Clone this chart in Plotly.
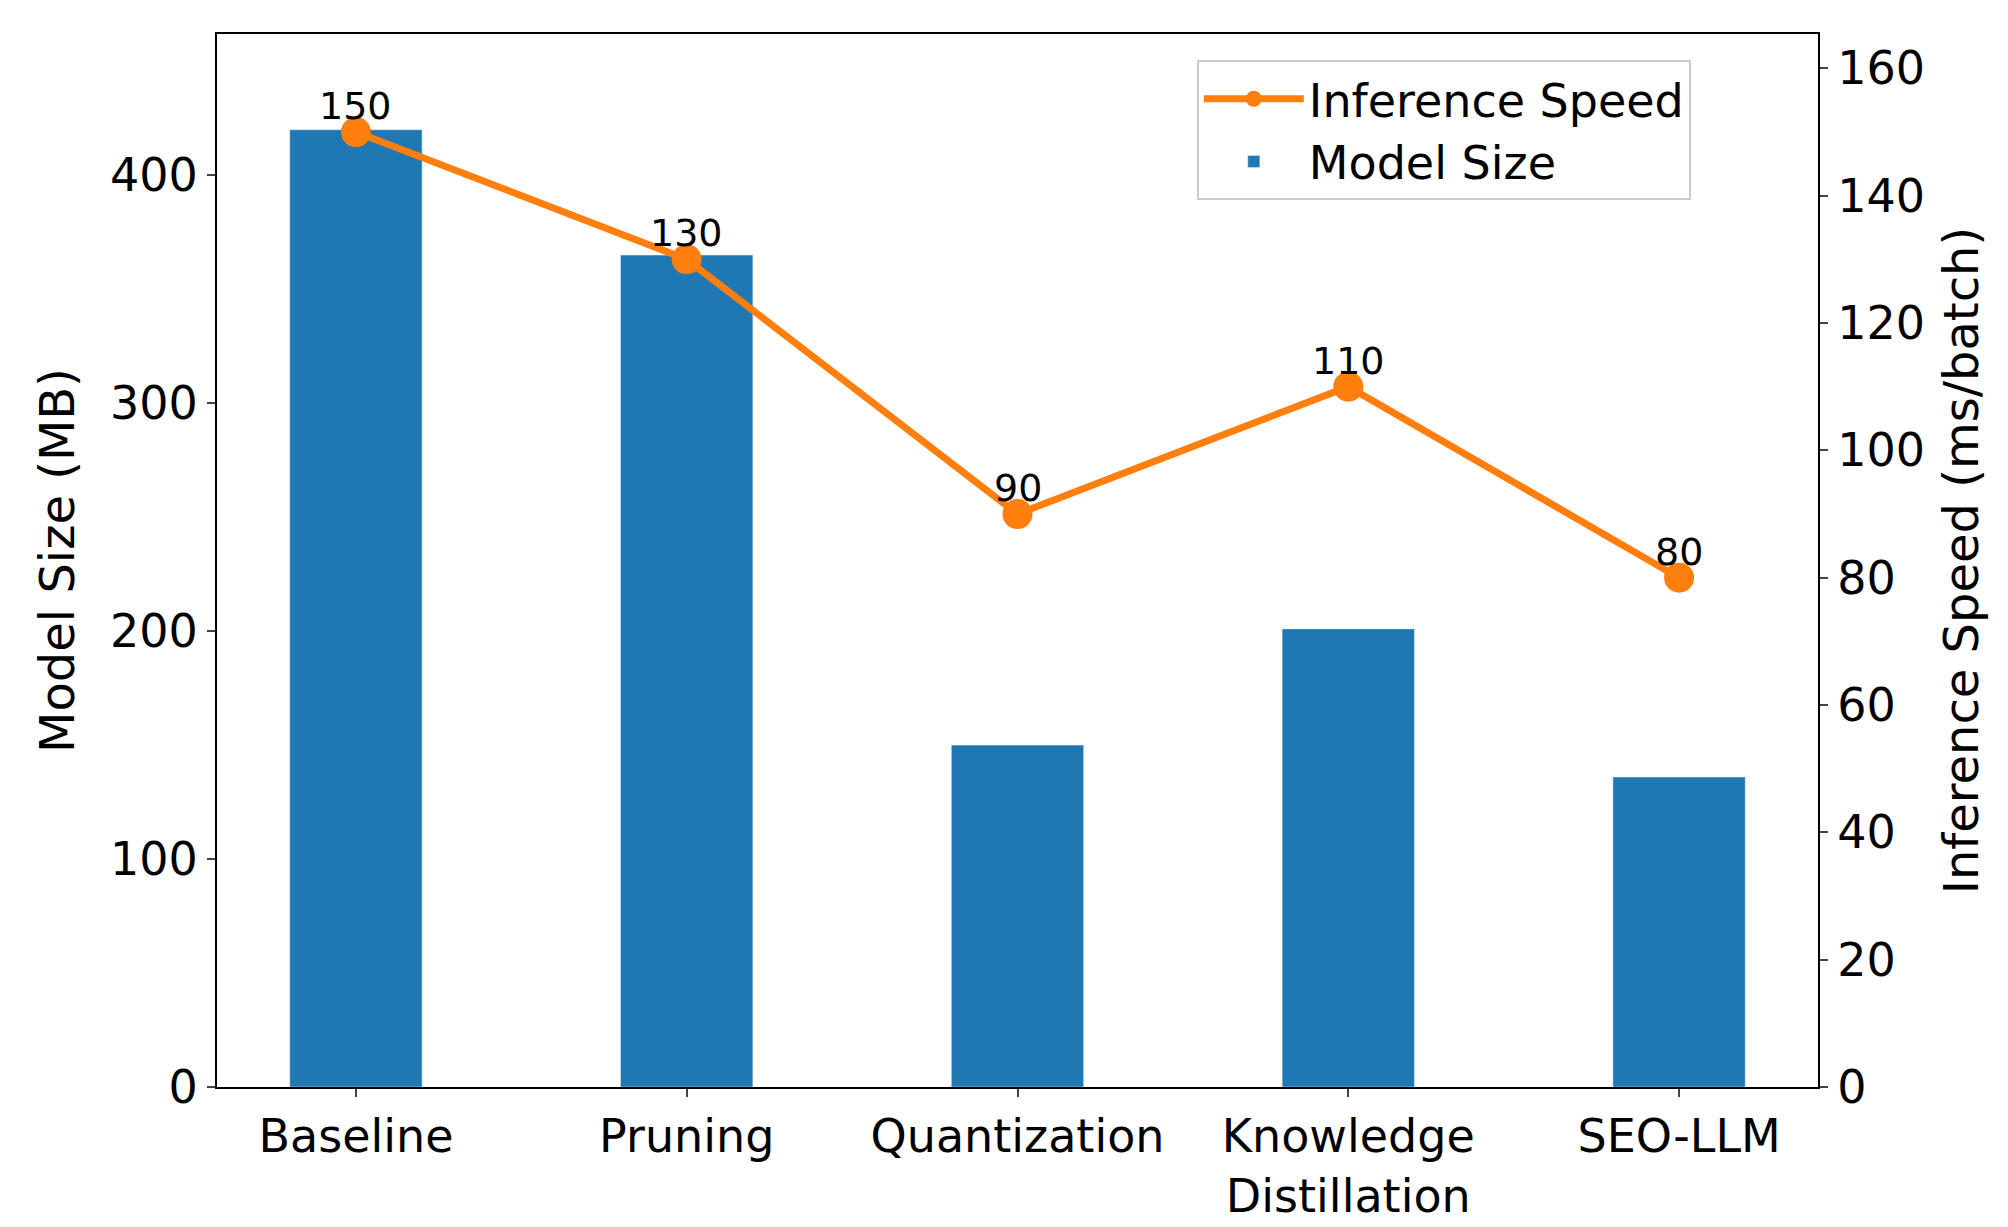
import plotly.graph_objects as go

methods = ["Baseline", "Pruning", "Quantization", "Knowledge<br>Distillation", "SEO-LLM"]
model_size = [420, 365, 150, 201, 136]
speed = [150, 130, 90, 110, 80]

fig = go.Figure()
fig.add_trace(go.Bar(
    x=methods, y=model_size, name="Model Size",
    marker_color="#1f77b4", width=0.4, yaxis="y",
))
fig.add_trace(go.Scatter(
    x=methods, y=speed, name="Inference Speed", yaxis="y2",
    mode="lines+markers",
    line=dict(color="#ff7f0e", width=7),
    marker=dict(color="#ff7f0e", size=30),
))
# value labels just above each marker
for m, v in zip(methods, speed):
    fig.add_annotation(x=m, y=v, xref="x", yref="y2", text=str(v),
                       showarrow=False, yanchor="bottom", yshift=2,
                       font=dict(size=38, color="black"))

fig.update_layout(
    width=2008, height=1227,
    plot_bgcolor="white", paper_bgcolor="white",
    font=dict(family="DejaVu Sans", size=44, color="black"),
    margin=dict(l=209, r=198, t=26, b=136),
    showlegend=True,
    legend=dict(x=0.612, y=0.975, xanchor="left", yanchor="top",
                bordercolor="#cccccc", borderwidth=2, bgcolor="white",
                font=dict(size=46), traceorder="reversed", itemwidth=100),
    xaxis=dict(showline=True, linecolor="black", linewidth=2, mirror=True,
               ticks="outside", ticklen=8, tickwidth=2, tickfont=dict(size=46),
               range=[-0.42, 4.42]),
    yaxis=dict(title=dict(text="Model Size (MB)", font=dict(size=48), standoff=20),
               range=[0, 462], dtick=100, showgrid=False, zeroline=False,
               showline=True, linecolor="black", linewidth=2,
               ticks="outside", ticklen=8, tickwidth=2, tickfont=dict(size=46)),
    yaxis2=dict(title=dict(text="Inference Speed (ms/batch)", font=dict(size=48), standoff=20),
                overlaying="y", side="right", range=[0, 165.4], dtick=20,
                showgrid=False, zeroline=False, showline=True, linecolor="black",
                linewidth=2, ticks="outside", ticklen=8, tickwidth=2,
                tickfont=dict(size=46)),
)

fig.write_html("out.html")
